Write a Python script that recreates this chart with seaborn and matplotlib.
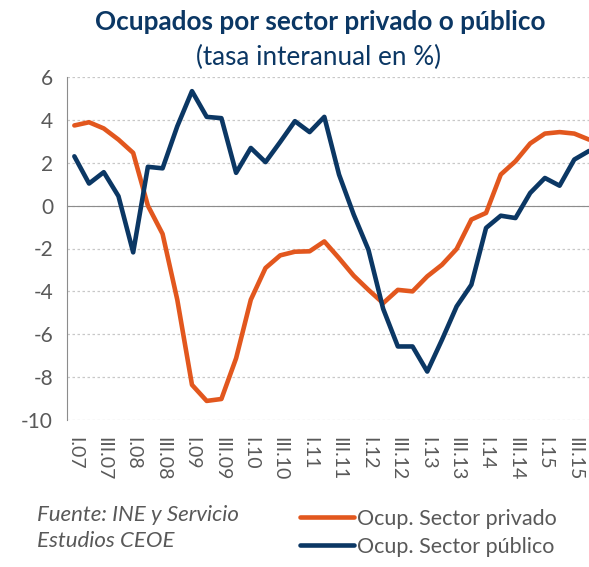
import numpy as np
import pandas as pd
import matplotlib
matplotlib.use("Agg")
import matplotlib.pyplot as plt
import seaborn as sns

sns.set_style("white")
plt.rcParams["font.family"] = ["Lato", "DejaVu Sans"]
plt.rcParams["axes.unicode_minus"] = False

# quarters I.07 .. IV.15
quarters = [
    "I.07", "II.07", "III.07", "IV.07", "I.08", "II.08", "III.08", "IV.08",
    "I.09", "II.09", "III.09", "IV.09", "I.10", "II.10", "III.10", "IV.10",
    "I.11", "II.11", "III.11", "IV.11", "I.12", "II.12", "III.12", "IV.12",
    "I.13", "II.13", "III.13", "IV.13", "I.14", "II.14", "III.14", "IV.14",
    "I.15", "II.15", "III.15", "IV.15",
]
privado = [3.74, 3.89, 3.60, 3.08, 2.46, 0.00, -1.32, -4.39, -8.36, -9.11,
           -9.02, -7.12, -4.39, -2.91, -2.32, -2.15, -2.13, -1.67, -2.45, -3.27,
           -3.93, -4.55, -3.93, -4.00, -3.30, -2.76, -2.02, -0.65, -0.34, 1.45,
           2.07, 2.90, 3.36, 3.43, 3.36, 3.08]
publico = [2.30, 1.03, 1.56, 0.44, -2.18, 1.81, 1.74, 3.70, 5.34, 4.14,
           4.08, 1.53, 2.69, 2.03, 2.97, 3.94, 3.43, 4.14, 1.45, -0.42,
           -2.06, -4.81, -6.57, -6.57, -7.74, -6.26, -4.70, -3.69, -1.04, -0.47,
           -0.58, 0.59, 1.29, 0.93, 2.15, 2.55]
series_names = ["Ocup. Sector privado", "Ocup. Sector público"]

ORANGE = "#E2571E"
NAVY = "#0B3764"
GREY_TXT = "#595959"
GREY_AX = "#8C8C8C"

n = len(quarters)
df = pd.DataFrame({
    "pos": list(range(n)) * 2,
    "valor": privado + publico,
    "serie": [series_names[0]] * n + [series_names[1]] * n,
})

fig = plt.figure(figsize=(5.89, 5.67), dpi=100)
ax = fig.add_axes([67 / 589, 1 - 420 / 567, 1 - 67 / 589, (420 - 77) / 567])

sns.lineplot(data=df, x="pos", y="valor", hue="serie", palette=[ORANGE, NAVY],
             linewidth=3.3, sort=False, ax=ax)
handles, labels = ax.get_legend_handles_labels()
ax.get_legend().remove()

ax.set_xlim(-0.5, n - 1)
ax.set_ylim(-10, 6)
ax.set_yticks(range(-10, 7, 2))
ax.set_xlabel("")
ax.set_ylabel("")

# dotted gridlines
ax.yaxis.grid(True, linestyle=(0, (2, 2)), color="#C8C8C8", linewidth=0.9)
ax.set_axisbelow(True)

for s in ("top", "right"):
    ax.spines[s].set_visible(False)
ax.spines["left"].set_color(GREY_AX)
ax.spines["bottom"].set_color(GREY_AX)
ax.spines["bottom"].set_position(("data", 0))
ax.spines["bottom"].set_zorder(1)

# tick marks between categories on the zero line
ax.set_xticks([])
ax.set_xticks(np.arange(-0.5, n - 0.5, 1), minor=True)
ax.tick_params(axis="x", which="minor", length=5, color=GREY_AX, labelbottom=False)
ax.tick_params(axis="y", length=6, color=GREY_AX, labelcolor=GREY_TXT,
               labelsize=15, pad=4)

# category labels at the bottom of the plot
sec = ax.secondary_xaxis("bottom")
sec.set_xticks(range(0, n, 2), quarters[::2], rotation=270)
sec.tick_params(length=0, labelcolor=GREY_TXT, labelsize=14, pad=12)
sec.spines["bottom"].set_visible(False)

fig.text(320 / 589, 1 - 22 / 567, "Ocupados por sector privado o público",
         ha="center", va="center", fontsize=18.8, fontweight="bold", color=NAVY)
fig.text(319 / 589, 1 - 57 / 567, "(tasa interanual en %)",
         ha="center", va="center", fontsize=18.8, color=NAVY)

fig.text(37 / 589, 1 - 515 / 567, "Fuente: INE y Servicio", ha="left",
         va="center", fontsize=16, style="italic", color=GREY_TXT)
fig.text(37 / 589, 1 - 541 / 567, "Estudios CEOE", ha="left",
         va="center", fontsize=16, style="italic", color=GREY_TXT)

fig.legend(handles, labels, loc="upper left",
           bbox_to_anchor=(300 / 589, 1 - 509 / 567), frameon=False,
           fontsize=15.5, handlelength=2.5, handletextpad=0.15,
           labelspacing=0.35, borderpad=0, borderaxespad=0,
           labelcolor=GREY_TXT)

fig.savefig("out.png", dpi=100)
